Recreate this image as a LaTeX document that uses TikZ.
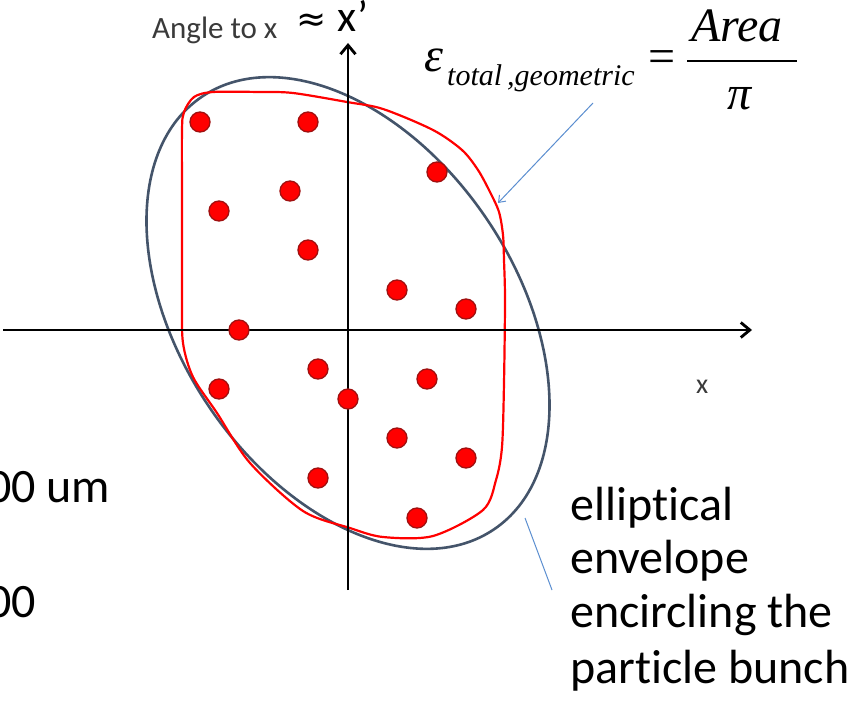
\documentclass[tikz,border=0pt]{standalone}
\usepackage{fontspec}
\setmainfont[Ligatures=CommonOff]{Carlito}
\newfontfamily\tnr{Liberation Serif}
\newfontfamily\dejavu{DejaVu Sans}
\usetikzlibrary{arrows.meta}
\definecolor{ellblue}{HTML}{44546A}
\definecolor{dotred}{HTML}{FF0000}
\definecolor{dotedge}{HTML}{A01010}
\definecolor{pointblue}{HTML}{5B8ED0}
\definecolor{labgray}{HTML}{3A3A3A}
\tikzset{
  axis/.style={line width=2.8pt, -{Straight Barb[length=9pt,width=15pt,line width=2.8pt]}},
  dot/.style={circle, fill=dotred, draw=dotedge, line width=1.3pt, minimum size=20pt, inner sep=0pt},
  bigtext/.style={anchor=base west, inner sep=0pt, font=\fontsize{48}{54}\selectfont},
  pointer/.style={pointblue, line width=1pt},
  mathit/.style={inner sep=0pt, font={\tnr\itshape\fontsize{48}{48}\selectfont}},
}
\begin{document}
\begin{tikzpicture}[x=1pt,y=-1pt]
\useasboundingbox (0,0) rectangle (852,701);
\fill[white] (0,0) rectangle (852,701);

% envelope ellipse
\coordinate (ec) at (348,313);
\draw[ellblue, line width=2.6pt, rotate around={-56:(ec)}] (ec) ellipse [x radius=261pt, y radius=167.6pt];

% red contour around bunch
\draw[red, line width=2.2pt, line join=round]
  plot[smooth cycle, tension=0.5] coordinates {
  (184,112) (194,97) (213,92) (260,92) (293,93) (347,102) (383,109) (433,130)
  (462,150) (478,170) (490,192) (499,212) (503,235) (504,260) (505,300)
  (504,383) (502,447) (496,480) (483,510) (433,536) (383,537) (350,528)
  (303,511) (250,463) (217,413) (193,377) (183,343) (182,300) (182,200) (182,130)};

% axes
\coordinate (xs) at (3,330);
\coordinate (xe) at (752,330);
\coordinate (ys) at (348,590);
\coordinate (ye) at (348,43);
\draw[axis] (xs) -- (xe);
\draw[axis] (ys) -- (ye);

% particles
\foreach \i/\px/\py in {1/200/122, 2/308/122, 3/437/172, 4/290/191, 5/219/211,
  6/308/250, 7/397/290, 8/466/309, 9/239/330, 10/318/369, 11/427/379,
  12/219/389, 13/348/399, 14/397/438, 15/466/458, 16/318/478, 17/417/518}
  \node[dot] (d\i) at (\px,\py) {};

% axis labels
\node[anchor=base west, inner sep=0pt, text=labgray, font=\fontsize{31}{31}\selectfont] (ylab) at (152,39) {Angle to x};
\node[anchor=center, inner sep=0pt, font={\dejavu\fontsize{36}{36}\selectfont}] (approx) at (312,23) {≈};
\node[anchor=base west, inner sep=0pt, font=\fontsize{44}{44}\selectfont] (xprime) at (337,32) {x’};
\node[anchor=base west, inner sep=0pt, text=labgray, font=\fontsize{28}{28}\selectfont] (xlab) at (696,393) {x};

% emittance formula
\node[mathit, anchor=base west] (eps) at (424,72) {ε};
\node[inner sep=0pt, anchor=base west, font={\tnr\itshape\fontsize{30}{30}\selectfont}] (sub) at (447,85) {total\,,geometric};
\node[inner sep=0pt, anchor=base, font={\tnr\fontsize{48}{48}\selectfont}] (eq) at (662,73) {=};
\node[mathit, anchor=base west] (area) at (691,42) {Area};
\node[mathit, anchor=base] (pi) at (740,110) {π};
\coordinate (barl) at (687,61);
\coordinate (barr) at (797,61);
\draw[line width=1.8pt] (barl) -- (barr);

% pointer from formula to contour
\coordinate (p1s) at (593,103);
\coordinate (p1e) at (498,203);
\draw[pointer, -{Straight Barb[length=6pt,width=9pt]}] (p1s) -- (p1e);

% left clipped texts
\node[bigtext] (lt1) at (-13,502) {00 um};
\node[bigtext] (lt2) at (-13,617) {00};

% right description
\node[bigtext] (r1) at (570,520) {elliptical};
\node[bigtext] (r2) at (570,573) {envelope};
\node[bigtext] (r3) at (570,627) {encircling the};
\node[bigtext] (r4) at (570,683) {particle bunch};

% pointer to ellipse
\coordinate (p2s) at (525,518);
\coordinate (p2e) at (552,590);
\draw[pointer] (p2s) -- (p2e);
\end{tikzpicture}
\end{document}
